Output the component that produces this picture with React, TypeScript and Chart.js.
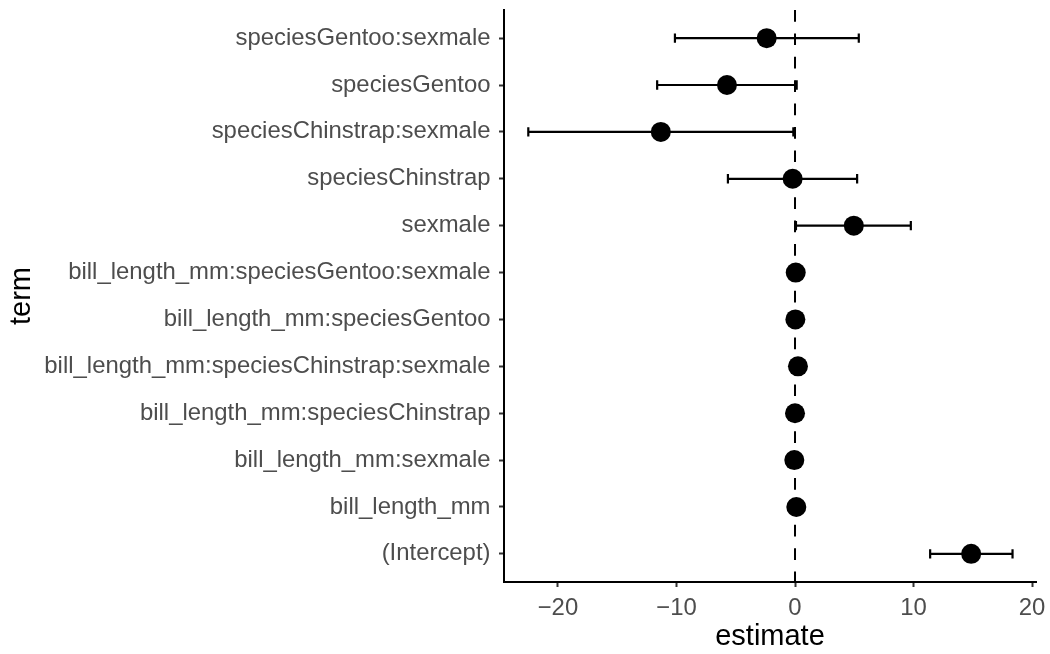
import { useEffect, useRef } from "react";
import { Chart, registerables } from "chart.js";

Chart.register(...registerables);

// Terms, bottom (position 1) to top (position 12)
const TERMS = [
  "(Intercept)",
  "bill_length_mm",
  "bill_length_mm:sexmale",
  "bill_length_mm:speciesChinstrap",
  "bill_length_mm:speciesChinstrap:sexmale",
  "bill_length_mm:speciesGentoo",
  "bill_length_mm:speciesGentoo:sexmale",
  "sexmale",
  "speciesChinstrap",
  "speciesChinstrap:sexmale",
  "speciesGentoo",
  "speciesGentoo:sexmale",
];
const ESTIMATES = [14.86, 0.11, -0.06, 0.0, 0.25, 0.03, 0.06, 4.96, -0.2, -11.32, -5.74, -2.39];
const CONF_LOW = [11.4, -0.05, -0.3, -0.23, -0.05, -0.2, -0.27, 0.08, -5.66, -22.5, -11.63, -10.13];
const CONF_HIGH = [18.35, 0.27, 0.18, 0.22, 0.55, 0.26, 0.39, 9.77, 5.24, -0.14, 0.14, 5.38];
const X_TICKS = [-20, -10, 0, 10, 20];
const X_LIMITS = [-24.55, 20.33];
const REF_LINE = 0;

const FONT = "'Liberation Sans', Arial, Helvetica, sans-serif";

const errorBarPlugin = {
  id: "errorBars",
  beforeDatasetsDraw(chart: any) {
    const { ctx, chartArea } = chart;
    const xs = chart.scales.x;
    const ys = chart.scales.y;
    ctx.save();
    // reference dashed line
    ctx.strokeStyle = "#000000";
    ctx.lineWidth = 2;
    ctx.setLineDash([11.7, 11.7]);
    const x0 = xs.getPixelForValue(REF_LINE);
    ctx.beginPath();
    ctx.moveTo(x0, chartArea.top);
    ctx.lineTo(x0, chartArea.bottom);
    ctx.stroke();
    ctx.setLineDash([]);
    // error bars
    ctx.lineWidth = 2.2;
    TERMS.forEach((_, i) => {
      const pos = i + 1;
      const yc = ys.getPixelForValue(pos);
      const yt = ys.getPixelForValue(pos + 0.1);
      const yb = ys.getPixelForValue(pos - 0.1);
      const xl = xs.getPixelForValue(CONF_LOW[i]);
      const xh = xs.getPixelForValue(CONF_HIGH[i]);
      ctx.beginPath();
      ctx.moveTo(xl, yc);
      ctx.lineTo(xh, yc);
      ctx.moveTo(xl, yt);
      ctx.lineTo(xl, yb);
      ctx.moveTo(xh, yt);
      ctx.lineTo(xh, yb);
      ctx.stroke();
    });
    ctx.restore();
  },
};

export default function App() {
  const ref = useRef<HTMLCanvasElement | null>(null);

  useEffect(() => {
    if (!ref.current) return;
    const chart = new Chart(ref.current, {
      type: "scatter",
      data: {
        datasets: [
          {
            data: ESTIMATES.map((v, i) => ({ x: v, y: i + 1 })),
            pointRadius: 10,
            pointHoverRadius: 10,
            pointBackgroundColor: "#000000",
            pointBorderWidth: 0,
            pointBorderColor: "#000000",
          },
        ],
      },
      options: {
        animation: false,
        responsive: false,
        devicePixelRatio: 1,
        events: [],
        layout: { autoPadding: false, padding: { top: 10, right: 14, left: 0, bottom: 0 } },
        plugins: {
          legend: { display: false },
          tooltip: { enabled: false },
        },
        scales: {
          x: {
            type: "linear",
            min: X_LIMITS[0],
            max: X_LIMITS[1],
            afterBuildTicks: (s: any) => {
              s.ticks = X_TICKS.map((v) => ({ value: v }));
            },
            afterFit: (s: any) => {
              s.height = 72;
              s.paddingLeft = 0;
              s.paddingRight = 0;
              s.paddingTop = 0;
              s.paddingBottom = 0;
            },
            ticks: {
              callback: (v: any) => (Number(v) < 0 ? "\u2212" + Math.abs(Number(v)) : String(v)),
              color: "#4D4D4D",
              font: { family: FONT, size: 23.9 },
              padding: 7,
              maxRotation: 0,
              autoSkip: false,
            },
            grid: {
              display: true,
              drawOnChartArea: false,
              drawTicks: true,
              tickLength: 5,
              tickWidth: 2,
              tickColor: "#333333",
            },
            border: { display: true, color: "#000000", width: 2 },
            title: {
              display: true,
              text: "estimate",
              color: "#000000",
              font: { family: FONT, size: 29 },
              padding: { top: 0, bottom: 0 },
            },
          },
          y: {
            type: "linear",
            min: 0.4,
            max: 12.6,
            afterBuildTicks: (s: any) => {
              s.ticks = TERMS.map((_, i) => ({ value: i + 1 }));
            },
            afterFit: (s: any) => {
              s.width = 504;
              s.paddingLeft = 0;
              s.paddingRight = 0;
              s.paddingTop = 0;
              s.paddingBottom = 0;
            },
            ticks: {
              callback: (v: any) => TERMS[Math.round(Number(v)) - 1] ?? "",
              color: "#4D4D4D",
              font: { family: FONT, size: 23.9 },
              padding: 8.5,
              autoSkip: false,
            },
            grid: {
              display: true,
              drawOnChartArea: false,
              drawTicks: true,
              tickLength: 5,
              tickWidth: 2,
              tickColor: "#333333",
            },
            border: { display: true, color: "#000000", width: 2 },
            title: {
              display: true,
              text: "term",
              color: "#000000",
              font: { family: FONT, size: 29 },
              padding: { top: 5, bottom: 0 },
            },
          },
        },
      },
      plugins: [errorBarPlugin],
    } as any);
    return () => chart.destroy();
  }, []);

  return (
    <div style={{ position: "absolute", left: 0, top: 0, width: 1050, height: 654, background: "#ffffff" }}>
      <canvas ref={ref} width={1050} height={654} style={{ display: "block" }} />
    </div>
  );
}
